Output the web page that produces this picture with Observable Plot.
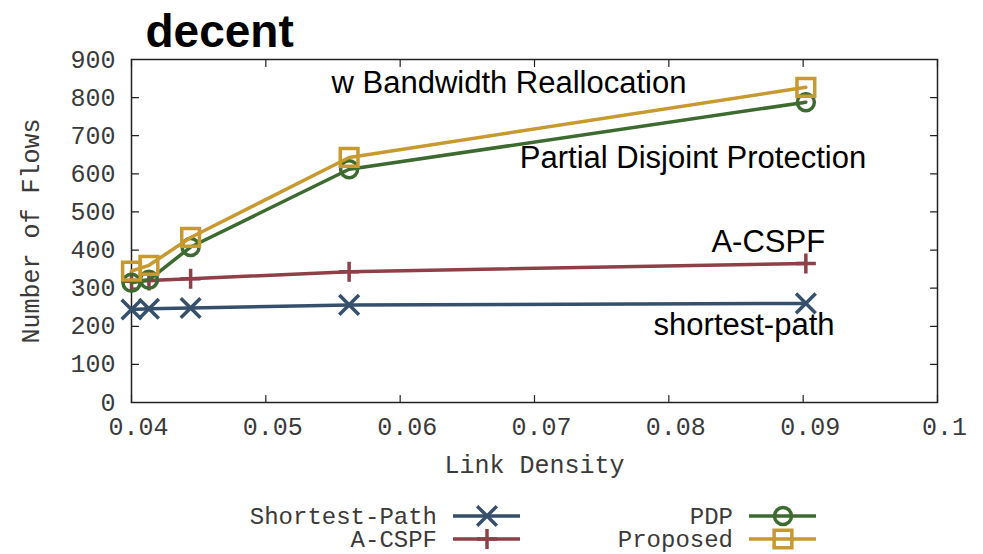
<!DOCTYPE html>
<html>
<head>
<meta charset="utf-8">
<script src="https://cdn.jsdelivr.net/npm/d3@7"></script>
<script src="https://cdn.jsdelivr.net/npm/@observablehq/plot@0.6"></script>
<style>
  html, body { margin: 0; padding: 0; background: #fff; }
  #chart { position: relative; width: 983px; height: 554px; }
</style>
</head>
<body>
<div id="chart"></div>
<script>
// ---- data ----
const titleText = ["decent"];
const seriesNames = ["Shortest-Path", "A-CSPF", "PDP", "Proposed"];
const linkDensity = [0.0400, 0.0413, 0.0444, 0.0562, 0.0902];
const shortestPath = [244, 246, 248, 256, 260];
const aCspf = [318, 320, 325, 343, 365];
const pdp = [314, 322, 408, 612, 788];
const proposed = [345, 360, 433, 643, 827];
const xTicks = [0.04, 0.05, 0.06, 0.07, 0.08, 0.09, 0.1];
const yTicks = [0, 100, 200, 300, 400, 500, 600, 700, 800, 900];
const annotations = ["w Bandwidth Reallocation", "Partial Disjoint Protection", "A-CSPF", "shortest-path"];
const annotationX = [0.0681, 0.0818, 0.0874, 0.0856];
const annotationY = [811, 614, 394, 178];

// ---- styles ----
const colors = ["#36506c", "#8f3f48", "#3d6a2f", "#c8992f"];
const symbols = ["times", "plus", "circle", "square"];
const radii = [9, 6.5, 8.5, 10];
const values = [shortestPath, aCspf, pdp, proposed];

const rows = seriesNames.flatMap((s, i) => linkDensity.map((x, j) => ({series: s, x, y: values[i][j]})));
const annRows = annotations.map((t, i) => ({t, x: annotationX[i], y: annotationY[i]}));

const mono = "Liberation Mono, DejaVu Sans Mono, monospace";
const sans = "Liberation Sans, Arial, sans-serif";
const tickColor = "#3a3a3a";
const monoSize = 25;

// inward tick shape for vectors
const tickShape = {draw(context, l) { context.moveTo(0, 0); context.lineTo(0, -l); }};

const seriesMarks = seriesNames.flatMap((s, i) => {
  const d = rows.filter(r => r.series === s);
  return [
    Plot.line(d, {x: "x", y: "y", stroke: colors[i], strokeWidth: 3.5}),
    Plot.dot(d, {x: "x", y: "y", symbol: () => symbols[i], r: radii[i], stroke: colors[i], strokeWidth: 3.5, fill: "none"})
  ];
});

const plot = Plot.plot({
  width: 983,
  height: 554,
  marginTop: 59,
  marginLeft: 131,
  marginRight: 46,
  marginBottom: 152,
  style: {fontFamily: mono, fontSize: monoSize + "px", color: tickColor, background: "#fff", overflow: "visible"},
  x: {domain: [0.04, 0.1], axis: null},
  y: {domain: [0, 900], axis: null},
  marks: [
    // inward ticks on all sides
    Plot.vector(xTicks, {x: d => d, frameAnchor: "bottom", length: 7, rotate: 0, anchor: "start", shape: tickShape, stroke: "#222", strokeWidth: 1.2}),
    Plot.vector(xTicks, {x: d => d, frameAnchor: "top", length: 7, rotate: 180, anchor: "start", shape: tickShape, stroke: "#222", strokeWidth: 1.2}),
    Plot.vector(yTicks, {y: d => d, frameAnchor: "left", length: 7, rotate: 90, anchor: "start", shape: tickShape, stroke: "#222", strokeWidth: 1.2}),
    Plot.vector(yTicks, {y: d => d, frameAnchor: "right", length: 7, rotate: -90, anchor: "start", shape: tickShape, stroke: "#222", strokeWidth: 1.2}),
    Plot.axisX(xTicks, {anchor: "bottom", tickSize: 0, tickPadding: 15, dx: 7, fill: tickColor, fontSize: monoSize, label: null,
      tickFormat: d => d === 0.1 ? "0.1" : d3.format(".2f")(d)}),
    Plot.axisY(yTicks, {anchor: "left", tickSize: 0, tickPadding: 16, fill: tickColor, fontSize: monoSize, label: null, tickFormat: d => String(d)}),
    Plot.frame({stroke: "#222", strokeWidth: 1.5}),
    ...seriesMarks,
    Plot.text(annRows, {x: "x", y: "y", text: "t", textAnchor: "middle", lineAnchor: "bottom", fontFamily: sans, fontSize: 31, fill: "#000"}),
    // axis labels and title
    Plot.text(["Link Density"], {frameAnchor: "bottom", dy: 70, fontFamily: mono, fontSize: monoSize, fill: tickColor}),
    Plot.text(["Number of Flows"], {frameAnchor: "left", rotate: -90, dx: -101, textAnchor: "middle", fontFamily: mono, fontSize: monoSize, fill: tickColor}),
    Plot.text(titleText, {frameAnchor: "top-left", dx: 14, dy: -13, textAnchor: "start", lineAnchor: "bottom", fontFamily: sans, fontWeight: "bold", fontSize: 46, fill: "#000"})
  ]
});

// ---- legend (drawn into the same svg) ----
const svg = d3.select(plot);
const legendPos = [
  {endX: 437, y: 516}, {endX: 437, y: 539}, {endX: 733, y: 516}, {endX: 733, y: 539}
];
const lg = svg.append("g").attr("class", "legend");
seriesNames.forEach((s, i) => {
  const p = legendPos[i];
  lg.append("text").attr("x", p.endX).attr("y", p.y).attr("dy", "0.32em")
    .attr("text-anchor", "end").attr("font-family", mono).attr("font-size", 24).attr("fill", tickColor).text(s);
  lg.append("line").attr("x1", p.endX + 16).attr("x2", p.endX + 83).attr("y1", p.y).attr("y2", p.y)
    .attr("stroke", colors[i]).attr("stroke-width", 3.5);
  const sym = {times: d3.symbolTimes, plus: d3.symbolPlus, circle: d3.symbolCircle, square: d3.symbolSquare}[symbols[i]];
  lg.append("path").attr("transform", `translate(${p.endX + 50},${p.y})`)
    .attr("d", d3.symbol(sym, Math.PI * radii[i] * radii[i])())
    .attr("fill", "none").attr("stroke", colors[i]).attr("stroke-width", 3.5);
});

document.getElementById("chart").appendChild(plot);
</script>
</body>
</html>
